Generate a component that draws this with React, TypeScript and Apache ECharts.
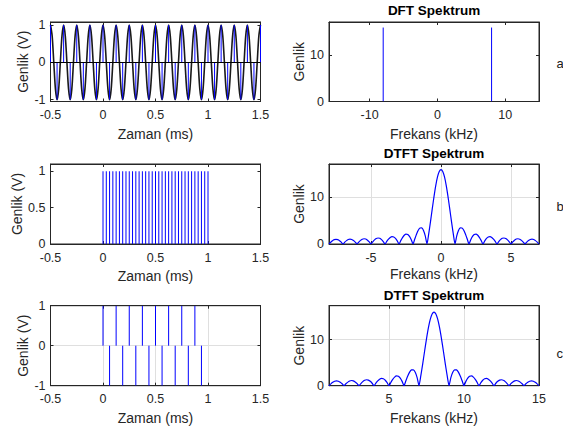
import React, { useEffect, useRef } from "react";
import * as echarts from "echarts";

// ---------- DATA ----------
// Row a: 8 kHz cosine (-0.5 .. 1.5 ms), continuous curve sampled every 1/64 ms
const curveStartA = -0.5;
const curveStepA = 1 / 64;
const curveA = [
  1, 0.71, 0, -0.71, -1, -0.71, 0, 0.71,
  1, 0.71, 0, -0.71, -1, -0.71, 0, 0.71,
  1, 0.71, 0, -0.71, -1, -0.71, 0, 0.71,
  1, 0.71, 0, -0.71, -1, -0.71, 0, 0.71,
  1, 0.71, 0, -0.71, -1, -0.71, 0, 0.71,
  1, 0.71, 0, -0.71, -1, -0.71, 0, 0.71,
  1, 0.71, 0, -0.71, -1, -0.71, 0, 0.71,
  1, 0.71, 0, -0.71, -1, -0.71, 0, 0.71,
  1, 0.71, 0, -0.71, -1, -0.71, 0, 0.71,
  1, 0.71, 0, -0.71, -1, -0.71, 0, 0.71,
  1, 0.71, 0, -0.71, -1, -0.71, 0, 0.71,
  1, 0.71, 0, -0.71, -1, -0.71, 0, 0.71,
  1, 0.71, 0, -0.71, -1, -0.71, 0, 0.71,
  1, 0.71, 0, -0.71, -1, -0.71, 0, 0.71,
  1, 0.71, 0, -0.71, -1, -0.71, 0, 0.71,
  1, 0.71, 0, -0.71, -1, -0.71, 0, 0.71,
  1,
];
// Row a: samples (stems) every 1/32 ms
const stemStartA = -0.5;
const stemStepA = 1 / 32;
const stemsA = [
  1, 0, -1, 0, 1, 0, -1, 0, 1, 0, -1, 0, 1, 0, -1, 0,
  1, 0, -1, 0, 1, 0, -1, 0, 1, 0, -1, 0, 1, 0, -1, 0,
  1, 0, -1, 0, 1, 0, -1, 0, 1, 0, -1, 0, 1, 0, -1, 0,
  1, 0, -1, 0, 1, 0, -1, 0, 1, 0, -1, 0, 1, 0, -1, 0,
  1,
];
// Row a: DFT spectrum
const dftFreqA = [-8, 8];
const dftMagA = [16, 16];

// Row b: pulse train 0 .. 1 ms, every 1/32 ms
const stemStartB = 0;
const stemStepB = 1 / 32;
const stemsB = [
  1, 1, 1, 1, 1, 1, 1, 1, 1, 1, 1, 1, 1, 1, 1, 1,
  1, 1, 1, 1, 1, 1, 1, 1, 1, 1, 1, 1, 1, 1, 1, 1, 1,
];
// Row b: DTFT magnitude, -8 .. 7 kHz, every 0.125 kHz
const dtftStartB = -8;
const dtftStep = 0.125;
const dtftB = [
  0, 0.38, 0.71, 0.93, 1.0, 0.93, 0.72, 0.39,
  0, 0.39, 0.73, 0.96, 1.05, 0.97, 0.75, 0.41,
  0, 0.42, 0.78, 1.03, 1.13, 1.06, 0.82, 0.45,
  0, 0.47, 0.88, 1.17, 1.29, 1.22, 0.95, 0.53,
  0, 0.55, 1.05, 1.41, 1.58, 1.5, 1.19, 0.66,
  0, 0.72, 1.38, 1.87, 2.12, 2.06, 1.65, 0.94,
  0, 1.06, 2.1, 2.95, 3.44, 3.46, 2.91, 1.75,
  0, 2.24, 4.82, 7.55, 10.2, 12.56, 14.41, 15.59,
  16.0,
  15.59, 14.41, 12.56, 10.2, 7.55, 4.82, 2.24, 0,
  1.75, 2.91, 3.46, 3.44, 2.95, 2.1, 1.06, 0,
  0.94, 1.65, 2.06, 2.12, 1.87, 1.38, 0.72, 0,
  0.66, 1.19, 1.5, 1.58, 1.41, 1.05, 0.55, 0,
  0.53, 0.95, 1.22, 1.29, 1.17, 0.88, 0.47, 0,
  0.45, 0.82, 1.06, 1.13, 1.03, 0.78, 0.42, 0,
  0.41, 0.75, 0.97, 1.05, 0.96, 0.73, 0.39, 0,
];

// Row c: alternating samples
const stemTimesC = [
  0, 0.0625, 0.125, 0.1875, 0.25, 0.3125, 0.375, 0.4375,
  0.5, 0.5625, 0.625, 0.6875, 0.75, 0.8125, 0.875, 0.9375,
];
const stemsC = [1, -1, 1, -1, 1, -1, 1, -1, 1, -1, 1, -1, 1, -1, 1, -1];
// Row c: DTFT magnitude, 1 .. 15 kHz, every 0.125 kHz
const dtftStartC = 1;
const dtftC = [
  0, 0.39, 0.73, 0.96, 1.05, 0.97, 0.75, 0.41,
  0, 0.42, 0.78, 1.03, 1.13, 1.06, 0.82, 0.45,
  0, 0.47, 0.88, 1.17, 1.29, 1.22, 0.95, 0.53,
  0, 0.55, 1.05, 1.41, 1.58, 1.5, 1.19, 0.66,
  0, 0.72, 1.38, 1.87, 2.12, 2.06, 1.65, 0.94,
  0, 1.06, 2.1, 2.95, 3.44, 3.46, 2.91, 1.75,
  0, 2.24, 4.82, 7.55, 10.2, 12.56, 14.41, 15.59,
  16.0,
  15.59, 14.41, 12.56, 10.2, 7.55, 4.82, 2.24, 0,
  1.75, 2.91, 3.46, 3.44, 2.95, 2.1, 1.06, 0,
  0.94, 1.65, 2.06, 2.12, 1.87, 1.38, 0.72, 0,
  0.66, 1.19, 1.5, 1.58, 1.41, 1.05, 0.55, 0,
  0.53, 0.95, 1.22, 1.29, 1.17, 0.88, 0.47, 0,
  0.45, 0.82, 1.06, 1.13, 1.03, 0.78, 0.42, 0,
  0.41, 0.75, 0.97, 1.05, 0.96, 0.73, 0.39, 0,
];

// Ticks
const timeTicks = [-0.5, 0, 0.5, 1, 1.5];
const freqTicksA = [-10, 0, 10];
const freqTicksB = [-5, 0, 5];
const freqTicksC = [5, 10, 15];
const yTicksSym = [-1, 0, 1];
const yTicksPulse = [0, 0.5, 1];
const yTicksSpec = [0, 10];

const titles = ["DFT Spektrum", "DTFT Spektrum", "DTFT Spektrum"];
const rowLabels = ["a", "b", "c"];

// ---------- STYLE ----------
const AX = "#262626";
const GRIDC = "#dfdfdf";
const FONT = "Liberation Sans, Arial, Helvetica, sans-serif";
const BLUE = "#0000ff";

const pairs = (start: number, step: number, vals: number[]) =>
  vals.map((v, i) => [start + i * step, v]);
const zip = (xs: number[], ys: number[]) => xs.map((x, i) => [x, ys[i]]);

const stemRender = (params: any, api: any) => {
  const p0 = api.coord([api.value(0), 0]);
  const p1 = api.coord([api.value(0), api.value(1)]);
  return {
    type: "line",
    shape: { x1: p0[0], y1: p0[1], x2: p1[0], y2: p1[1] },
    style: { stroke: BLUE, lineWidth: 1 },
  };
};

type Panel = {
  left: number;
  top: number;
  width: number;
  height: number;
  xMin: number;
  xMax: number;
  xTicks: number[];
  yMin: number;
  yMax: number;
  yTicks: number[];
  xName: string;
  yName: string;
  yNameGap: number;
  xNameGap: number;
  grid: boolean;
};

const LX = 50.5,
  RX = 329,
  WL = 210,
  WR = 210;
const rows = [
  { top: 22, height: 79.5 },
  { top: 164, height: 80 },
  { top: 305.7, height: 80 },
];

const panels: Panel[] = [
  { left: LX, top: rows[0].top, width: WL, height: rows[0].height, xMin: -0.5, xMax: 1.5, xTicks: timeTicks, yMin: -1.05, yMax: 1.08, yTicks: yTicksSym, xName: "Zaman (ms)", yName: "Genlik (V)", yNameGap: 18, xNameGap: 25, grid: false },
  { left: RX, top: rows[0].top, width: WR, height: rows[0].height, xMin: -16, xMax: 15, xTicks: freqTicksA, yMin: 0, yMax: 17.2, yTicks: yTicksSpec, xName: "Frekans (kHz)", yName: "Genlik", yNameGap: 23, xNameGap: 25, grid: false },
  { left: LX, top: rows[1].top, width: WL, height: rows[1].height, xMin: -0.5, xMax: 1.5, xTicks: timeTicks, yMin: 0, yMax: 1.1, yTicks: yTicksPulse, xName: "Zaman (ms)", yName: "Genlik (V)", yNameGap: 25, xNameGap: 25, grid: false },
  { left: RX, top: rows[1].top, width: WR, height: rows[1].height, xMin: -8, xMax: 7, xTicks: freqTicksB, yMin: 0, yMax: 17.2, yTicks: yTicksSpec, xName: "Frekans (kHz)", yName: "Genlik", yNameGap: 23, xNameGap: 23, grid: true },
  { left: LX, top: rows[2].top, width: WL, height: rows[2].height, xMin: -0.5, xMax: 1.5, xTicks: timeTicks, yMin: -1, yMax: 1, yTicks: yTicksSym, xName: "Zaman (ms)", yName: "Genlik (V)", yNameGap: 18, xNameGap: 25, grid: true },
  { left: RX, top: rows[2].top, width: WR, height: rows[2].height, xMin: 1, xMax: 15, xTicks: freqTicksC, yMin: 0, yMax: 17.4, yTicks: yTicksSpec, xName: "Frekans (kHz)", yName: "Genlik", yNameGap: 23, xNameGap: 25, grid: true },
];

function buildOption() {
  const grid: any[] = [];
  const xAxis: any[] = [];
  const yAxis: any[] = [];
  panels.forEach((p, i) => {
    grid.push({
      left: p.left,
      top: p.top,
      width: p.width,
      height: p.height,
      show: true,
      borderColor: AX,
      borderWidth: 1,
      backgroundColor: "#fff",
      containLabel: false,
    });
    const lineStyle = { color: AX, width: 1 };
    const splitLine = { show: p.grid, lineStyle: { color: GRIDC, width: 1 } };
    xAxis.push({
      type: "value",
      gridIndex: i,
      min: p.xMin,
      max: p.xMax,
      position: "bottom",
      axisLine: { show: true, onZero: false, lineStyle },
      axisTick: { show: true, inside: true, length: 3, customValues: p.xTicks, lineStyle },
      axisLabel: { show: true, customValues: p.xTicks, color: AX, fontSize: 12.5, fontFamily: FONT, margin: 7 },
      splitLine: { ...splitLine },
      name: p.xName,
      nameLocation: "middle",
      nameGap: p.xNameGap,
      nameTextStyle: { color: AX, fontSize: 14, fontFamily: FONT },
    });
    xAxis.push({
      type: "value",
      gridIndex: i,
      min: p.xMin,
      max: p.xMax,
      position: "top",
      axisLine: { show: true, onZero: false, lineStyle },
      axisTick: { show: true, inside: true, length: 3, customValues: p.xTicks, lineStyle },
      axisLabel: { show: false },
      splitLine: { show: false },
    });
    yAxis.push({
      type: "value",
      gridIndex: i,
      min: p.yMin,
      max: p.yMax,
      position: "left",
      axisLine: { show: true, onZero: false, lineStyle },
      axisTick: { show: true, inside: true, length: 3, customValues: p.yTicks, lineStyle },
      axisLabel: { show: true, customValues: p.yTicks, color: AX, fontSize: 12.5, fontFamily: FONT, margin: 5 },
      splitLine: { ...splitLine },
      name: p.yName,
      nameLocation: "middle",
      nameGap: p.yNameGap,
      nameTextStyle: { color: AX, fontSize: 14, fontFamily: FONT },
    });
    yAxis.push({
      type: "value",
      gridIndex: i,
      min: p.yMin,
      max: p.yMax,
      position: "right",
      axisLine: { show: true, onZero: false, lineStyle },
      axisTick: { show: true, inside: true, length: 3, customValues: p.yTicks, lineStyle },
      axisLabel: { show: false },
      splitLine: { show: false },
    });
  });

  const ax = (i: number) => ({ xAxisIndex: 2 * i, yAxisIndex: 2 * i });

  const series: any[] = [
    // a - time
    {
      type: "line",
      ...ax(0),
      data: pairs(curveStartA, curveStepA, curveA),
      showSymbol: false,
      smooth: 0.3,
      lineStyle: { color: "#1a1a1a", width: 1.6 },
      z: 2,
      markLine: {
        silent: true,
        symbol: "none",
        label: { show: false },
        lineStyle: { color: "#000", type: "solid", width: 1 },
        data: [{ yAxis: 0 }],
      },
    },
    { type: "custom", ...ax(0), data: pairs(stemStartA, stemStepA, stemsA), renderItem: stemRender, clip: true, z: 3 },
    // a - DFT
    { type: "custom", ...ax(1), data: zip(dftFreqA, dftMagA), renderItem: stemRender, clip: true, z: 3 },
    // b - time
    { type: "custom", ...ax(2), data: pairs(stemStartB, stemStepB, stemsB), renderItem: stemRender, clip: true, z: 3 },
    // b - DTFT
    {
      type: "line",
      ...ax(3),
      data: pairs(dtftStartB, dtftStep, dtftB),
      showSymbol: false,
      smooth: 0.2,
      lineStyle: { color: BLUE, width: 1.2 },
    },
    // c - time
    { type: "custom", ...ax(4), data: zip(stemTimesC, stemsC), renderItem: stemRender, clip: true, z: 3 },
    // c - DTFT
    {
      type: "line",
      ...ax(5),
      data: pairs(dtftStartC, dtftStep, dtftC),
      showSymbol: false,
      smooth: 0.2,
      lineStyle: { color: BLUE, width: 1.2 },
    },
  ];

  const graphic: any[] = [];
  const titleY = [10, 153.5, 295];
  titles.forEach((t, i) => {
    graphic.push({
      type: "text",
      x: RX + WR / 2,
      y: titleY[i],
      style: {
        text: t,
        fill: "#000",
        font: `bold 13.5px ${FONT}`,
        textAlign: "center",
        textVerticalAlign: "middle",
      },
    });
  });
  const labelY = [63.5, 206.5, 353];
  rowLabels.forEach((t, i) => {
    graphic.push({
      type: "text",
      x: 556.5,
      y: labelY[i],
      style: {
        text: t,
        fill: "#1a1a1a",
        font: `13px ${FONT}`,
        textAlign: "left",
        textVerticalAlign: "middle",
      },
    });
  });

  return {
    animation: false,
    backgroundColor: "#fff",
    grid,
    xAxis,
    yAxis,
    series,
    graphic,
  };
}

export default function App() {
  const ref = useRef<HTMLDivElement>(null);
  useEffect(() => {
    if (!ref.current) return;
    const chart = echarts.init(ref.current, undefined, { renderer: "svg" });
    chart.setOption(buildOption() as any);
    return () => chart.dispose();
  }, []);
  return (
    <div
      ref={ref}
      style={{ position: "fixed", left: 0, top: 0, width: 563, height: 428, background: "#fff" }}
    />
  );
}
